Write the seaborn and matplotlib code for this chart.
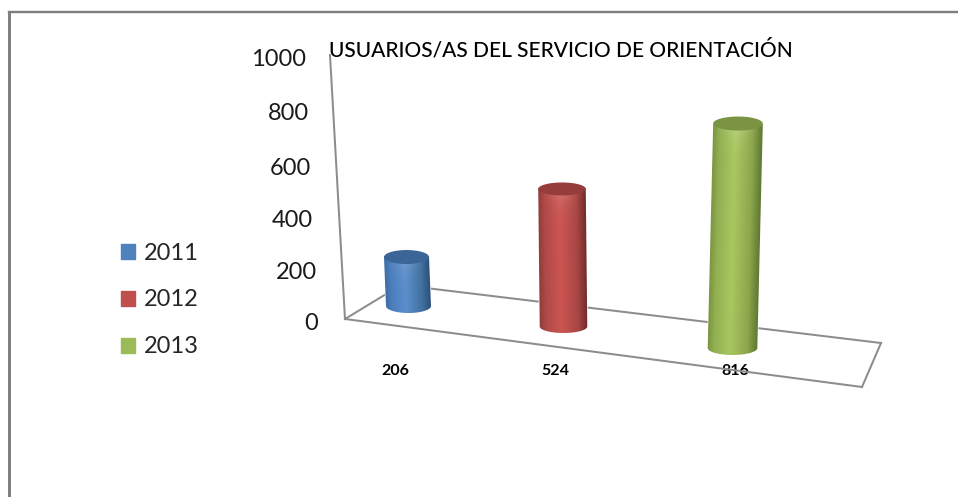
import numpy as np
import pandas as pd
import matplotlib
matplotlib.use('Agg')
import matplotlib.pyplot as plt
import seaborn as sns
from matplotlib.colors import to_rgb
from matplotlib.lines import Line2D
from matplotlib.patches import PathPatch
from matplotlib.path import Path
from matplotlib.transforms import Affine2D, IdentityTransform

years = ['2011', '2012', '2013']
users = [206, 524, 816]
y_ticks = [0, 200, 400, 600, 800, 1000]
title = 'USUARIOS/AS DEL SERVICIO DE ORIENTACIÓN'

W, H = 958, 497
sns.set_theme(style='white')
plt.rcParams['font.family'] = ['Lato', 'DejaVu Sans']

colors = {'2011': '#4F81BD', '2012': '#C0504D', '2013': '#9BBB59'}
# left edge, left shade, middle, right shade, right edge
shades = {'2011': ['#3D6EA8', '#4C7FBC', '#5B8ECC', '#41709F', '#2A4F7A'],
          '2012': ['#8F3C3A', '#B04A47', '#CC5552', '#A84644', '#6E2B2A'],
          '2013': ['#7A9440', '#93B052', '#A9C760', '#8CA64C', '#5F7731']}
caps = {'2011': '#3A6596', '2012': '#963C3A', '2013': '#7A9443'}
# fake depth of each bar: dx, dy (px), scale x, scale y, lean, cap height (px)
depth = {'2011': (1.5, -14, 0.98, 0.904, -2 / 49, 7),
         '2012': (-7.5, 6.5, 1.035, 0.998, -1.5 / 137.5, 6.5),
         '2013': (-2.5, 28, 1.08, 1.046, 5.5 / 224.5, 7)}

fig = plt.figure(figsize=(W / 100, H / 100), dpi=100, facecolor='white')
ax = fig.add_axes([318 / W, 1 - 320 / H, (890 - 318) / W, (320 - 57) / H])
ax.patch.set_visible(False)

d = pd.DataFrame({'year': years, 'users': users})
sns.barplot(data=d, x='year', y='users', hue='year', palette=colors, width=0.28,
            dodge=False, legend=False, ax=ax)
ax.set_xlim((318 - 407) / 164, (890 - 407) / 164)
ax.set_ylim(0, 1000)
ax.set_autoscale_on(False)
ax.set_xlabel('')
ax.set_ylabel('')
sns.despine(ax=ax, left=True, bottom=True)


def arc(cx, cy, a, b, t0, t1):
    t = np.linspace(t0, t1, 60)
    return np.column_stack([cx + a * np.cos(t), cy + b * np.sin(t)])


for p, year in zip(ax.patches, years):
    dx, dy, sx, sy, lean, cap_h = depth[year]
    x0, x1 = p.get_x(), p.get_x() + p.get_width()
    h = p.get_height()
    cx, y0 = ax.transData.transform(((x0 + x1) / 2, 0))
    tr = (Affine2D().translate(-cx, -y0).scale(sx, sy)
          .skew(np.arctan(lean), 0).translate(cx + dx, y0 - dy))
    full = ax.transData + tr
    p.set_transform(full)
    p.set_clip_on(False)
    p.set_zorder(3)

    (blx, bly), (brx, _), (tlx, tly), (trx, _) = full.transform(
        [(x0, 0), (x1, 0), (x0, h), (x1, h)])
    a = (brx - blx) / 2
    body = np.vstack([arc(blx + a, bly, a, cap_h, np.pi, 2 * np.pi),
                      arc(tlx + a, tly, a, cap_h, 0, np.pi)])

    # horizontal shading plus a soft highlight under the top rim
    rows = int(abs(h) * 0.3) + 20
    u = np.linspace(0, 1, 120)
    stops = np.array([to_rgb(c) for c in shades[year]])
    base = np.column_stack([np.interp(u, [0, 0.14, 0.45, 0.8, 1], stops[:, i]) for i in range(3)])
    px_from_top = np.linspace(0, rows, rows)[:, None]
    glow = np.exp(-((u - 0.5) / 0.25) ** 2)[None, :] * np.exp(-px_from_top / 12) * 0.28
    img = base[None, :, :] * (1 - glow[:, :, None]) + glow[:, :, None]
    im = ax.imshow(img, extent=(x0, x1, -60, h), aspect='auto', origin='upper',
                   zorder=4, interpolation='bilinear')
    im.set_transform(full)
    im.set_clip_box(fig.bbox)
    im.set_clip_path(Path(np.vstack([body, body[:1]])), IdentityTransform())

    top = arc(tlx + a, tly, a, cap_h, 0, 2 * np.pi)
    ax.add_patch(PathPatch(Path(top), facecolor=caps[year], edgecolor='none',
                           transform=IdentityTransform(), clip_on=False, zorder=5))


def px_line(xs, ys, lw, **kw):
    return Line2D(xs, [H - v for v in ys], lw=lw * 0.72, transform=IdentityTransform(),
                  solid_capstyle='projecting', **kw)


# chart floor and wall edges
for xs, ys in [((330, 345), (55, 319)), ((345, 862), (319, 387)), ((862, 881), (387, 343)),
               ((881, 401), (343, 285)), ((401, 345), (285, 319))]:
    ln = px_line(xs, ys, 2, color='#8C8C8C', zorder=1)
    ln.set_clip_on(False)
    ax.add_line(ln)
# outer frame
fig.add_artist(px_line((8.5, W), (12, 12), 2.4, color='#808080'))
fig.add_artist(px_line((8.5, 8.5), (12, H), 3, color='#808080'))

ax.set_title(title, x=(329 - 318) / (890 - 318), y=1.0, pad=0, ha='left', va='center',
             fontsize=15, color='black', fontweight='medium')
ax.title.set_transform(ax.title.get_transform() + Affine2D().translate(0, 7))

ax.tick_params(axis='both', length=0, pad=0)
ax.set_yticks(y_ticks, labels=[str(v) for v in y_ticks], fontsize=17, color='#1a1a1a')
ax.set_xticks(range(3), labels=[str(v) for v in users], fontsize=11.5, fontweight='bold',
              color='black')
for lab, off, up in zip(ax.get_yticklabels(), [0, -1, -5, -7, -9, -12], [-2, -3, -4, -4, -2, 0]):
    lab.set_transform(lab.get_transform() + Affine2D().translate(off, up))
for lab, off in zip(ax.get_xticklabels(), [-12, -16, 0]):
    lab.set_transform(lab.get_transform() + Affine2D().translate(off, -44))

handles = [plt.Rectangle((0, 0), 1, 1, color=colors[y]) for y in years]
fig.legend(handles, years, loc='center left', bbox_to_anchor=(121 / W, 1 - 300 / H),
           frameon=False, prop={'size': 17, 'family': 'Lato'}, borderpad=0, borderaxespad=0,
           handlelength=0.6, handleheight=0.6, handletextpad=0.38, labelspacing=1.1)

fig.savefig('out.png', dpi=100)
